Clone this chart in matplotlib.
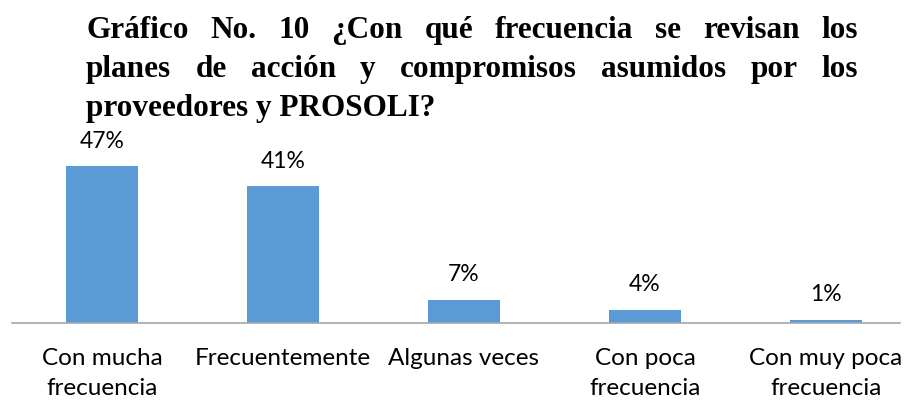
import numpy as np
import matplotlib.pyplot as plt

categories = ["Con mucha\nfrecuencia", "Frecuentemente", "Algunas veces",
              "Con poca\nfrecuencia", "Con muy poca\nfrecuencia"]
values = [47, 41, 7, 4, 1]
value_labels = ["47%", "41%", "7%", "4%", "1%"]
title_lines = ["Gráfico No. 10 ¿Con qué frecuencia se revisan los",
               "planes de acción y compromisos asumidos por los",
               "proveedores y PROSOLI?"]

W, H = 908, 403
fig = plt.figure(figsize=(W / 100, H / 100), dpi=100)

# axes placed in pixel terms
left_px, right_px = 12, 900
base_px, top_px = 323, 140
ax = fig.add_axes([left_px / W, (H - base_px) / H,
                   (right_px - left_px) / W, (base_px - top_px) / H])

x = np.arange(len(categories))
ax.bar(x, values, width=0.4, color="#5B9BD5")
ax.set_xlim((left_px - 102) / 181, (right_px - 102) / 181)
ax.set_ylim(0, (base_px - top_px) / 3.34)

for xi, v, lab in zip(x, values, value_labels):
    ax.annotate(lab, (xi, v), xytext=(0, 18), textcoords="offset points",
                ha="center", va="center", fontsize=16.5, family="Lato")

for s in ["top", "right", "left"]:
    ax.spines[s].set_visible(False)
ax.spines["bottom"].set_color("#A6A6A6")
ax.spines["bottom"].set_linewidth(1.2)
ax.set_yticks([])
ax.set_xticks(x)
ax.set_xticklabels(categories, fontsize=17.5, family="Lato", linespacing=1.55)
ax.tick_params(axis="x", length=0, pad=18)

# justified title
renderer = fig.canvas.get_renderer()
t_left, t_right = 86 / W, 858 / W
baselines = [38, 77, 116]
for i, line in enumerate(title_lines):
    y = (H - baselines[i]) / H
    kw = dict(fontsize=22.5, fontweight="bold", family="Liberation Serif",
              va="baseline", ha="left")
    if i == len(title_lines) - 1:
        fig.text(t_left, y, line, **kw)
        continue
    words = line.split(" ")
    texts = [fig.text(0, y, w, **kw) for w in words]
    widths = [t.get_window_extent(renderer).width / W for t in texts]
    gap = (t_right - t_left - sum(widths)) / (len(words) - 1)
    pos = t_left
    for t, w in zip(texts, widths):
        t.set_x(pos)
        pos += w + gap

fig.savefig("out.png", dpi=100)
